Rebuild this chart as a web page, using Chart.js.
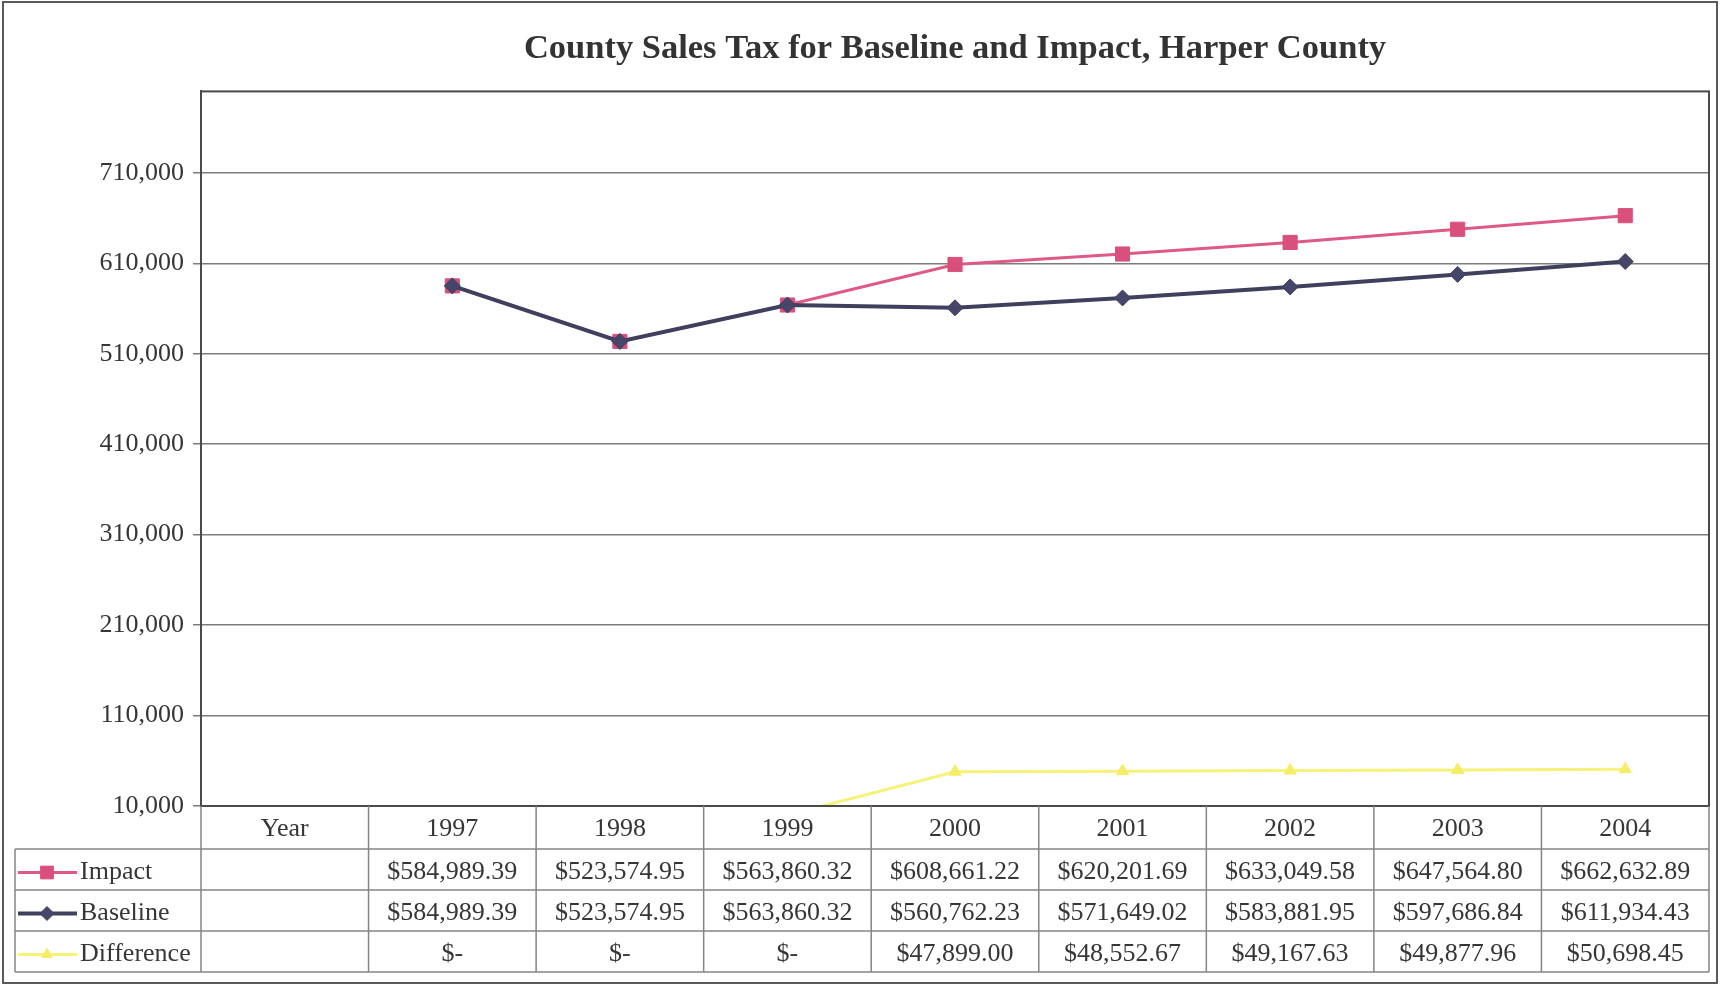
<!DOCTYPE html>
<html>
<head>
<meta charset="utf-8">
<title>County Sales Tax for Baseline and Impact, Harper County</title>
<script src="https://cdn.jsdelivr.net/npm/chart.js@4.4.1/dist/chart.umd.min.js"></script>
<style>
  html, body { margin: 0; padding: 0; background: #fff; }
  canvas { display: block; }
</style>
</head>
<body>
<canvas id="taxChart" width="1720" height="985"></canvas>
<script>
// categories (first column is the table header cell)
const years = ['Year', '1997', '1998', '1999', '2000', '2001', '2002', '2003', '2004'];

// series values, dollars
const impact     = [null, 584989.39, 523574.95, 563860.32, 608661.22, 620201.69, 633049.58, 647564.80, 662632.89];
const baseline   = [null, 584989.39, 523574.95, 563860.32, 560762.23, 571649.02, 583881.95, 597686.84, 611934.43];
const difference = [null, 0, 0, 0, 47899.00, 48552.67, 49167.63, 49877.96, 50698.45];

// value axis: ticks start at the axis minimum
const yMin = 10000;
const yMax = 800000;
const yStep = 100000;

const FONT = "'Liberation Serif', 'Times New Roman', serif";
const TEXT = '#363636';
const RULE = '#858585';

// money format used in the data table
function money(v) {
  if (v === null) return '';
  if (v === 0) return '$-';
  return '$' + v.toLocaleString('en-US', { minimumFractionDigits: 2, maximumFractionDigits: 2 });
}

// frame round the whole chart, border round the plot
const framePlugin = {
  id: 'frame',
  beforeDraw(chart) {
    const ctx = chart.ctx;
    ctx.save();
    ctx.fillStyle = '#fff';
    ctx.fillRect(0, 0, chart.width, chart.height);
    ctx.restore();
  },
  afterDraw(chart) {
    const ctx = chart.ctx;
    const a = chart.chartArea;
    ctx.save();
    ctx.strokeStyle = '#5a5a5a';
    ctx.lineWidth = 2;
    ctx.strokeRect(3, 2, chart.width - 6, chart.height - 4);
    ctx.strokeStyle = '#4a4a4a';
    ctx.strokeRect(a.left, a.top, a.right - a.left, a.bottom - a.top);
    ctx.restore();
  }
};

// data table under the plot, columns follow the category scale
const tablePlugin = {
  id: 'dataTable',
  afterDraw(chart) {
    const ctx = chart.ctx;
    const x = chart.scales.x;
    const top = chart.chartArea.bottom;
    const band = x.width / years.length;
    const edges = [];
    for (let i = 0; i <= years.length; i++) edges.push(x.left + i * band);

    const headH = 43, rowH = 41;
    const rows = [top + headH, top + headH + rowH, top + headH + 2 * rowH, top + headH + 3 * rowH];
    const keyLeft = 15;

    ctx.save();
    ctx.strokeStyle = RULE;
    ctx.lineWidth = 1.5;
    ctx.beginPath();
    // vertical rules
    edges.forEach(ex => {
      ctx.moveTo(ex, top);
      ctx.lineTo(ex, rows[3]);
    });
    ctx.moveTo(keyLeft, rows[0]);
    ctx.lineTo(keyLeft, rows[3]);
    // horizontal rules
    rows.forEach(ry => {
      ctx.moveTo(keyLeft, ry);
      ctx.lineTo(edges[edges.length - 1], ry);
    });
    ctx.stroke();

    // value cells and legend keys
    const sets = chart.data.datasets.slice().sort((p, q) => p.row - q.row);
    ctx.font = '26px ' + FONT;
    ctx.fillStyle = TEXT;
    ctx.textBaseline = 'middle';
    sets.forEach((ds, r) => {
      const cy = rows[r] + rowH / 2 + 3;
      ctx.textAlign = 'center';
      ds.data.forEach((v, i) => {
        if (v === null) return;
        ctx.fillText(money(v), (edges[i] + edges[i + 1]) / 2, cy);
      });

      // legend key: short line with the series marker
      ctx.save();
      ctx.strokeStyle = ds.borderColor;
      ctx.lineWidth = ds.borderWidth;
      ctx.beginPath();
      ctx.moveTo(18, cy);
      ctx.lineTo(77, cy);
      ctx.stroke();
      ctx.fillStyle = ds.pointBackgroundColor;
      ctx.strokeStyle = ds.pointBorderColor;
      ctx.lineWidth = 1;
      Chart.helpers.drawPoint(ctx, { pointStyle: ds.pointStyle, radius: ds.pointRadius - 1, rotation: 0, borderWidth: 1 }, 47, cy);
      ctx.restore();

      ctx.textAlign = 'left';
      ctx.fillText(ds.label, 80, cy);
    });
    ctx.restore();
  }
};

new Chart(document.getElementById('taxChart'), {
  type: 'line',
  data: {
    labels: years,
    datasets: [
      {
        label: 'Impact',
        row: 0,
        order: 1,
        data: impact,
        borderColor: '#de5a85',
        borderWidth: 3,
        pointStyle: 'rect',
        pointRadius: 10,
        pointBackgroundColor: '#d9507c',
        pointBorderColor: '#d9507c',
        pointBorderWidth: 1,
        tension: 0
      },
      {
        label: 'Baseline',
        row: 1,
        order: 0,
        data: baseline,
        borderColor: '#40405e',
        borderWidth: 4,
        pointStyle: 'rectRot',
        pointRadius: 8,
        pointBackgroundColor: '#46466a',
        pointBorderColor: '#40405e',
        pointBorderWidth: 1,
        tension: 0
      },
      {
        label: 'Difference',
        row: 2,
        order: 2,
        data: difference,
        borderColor: '#f6f27a',
        borderWidth: 3,
        pointStyle: 'triangle',
        pointRadius: 7,
        pointBackgroundColor: '#f4ee66',
        pointBorderColor: '#f4ee66',
        pointBorderWidth: 1,
        tension: 0,
        clip: 0
      }
    ]
  },
  options: {
    responsive: false,
    animation: false,
    layout: { padding: { top: 20, right: 11, bottom: 12, left: 0 } },
    plugins: {
      legend: { display: false },
      tooltip: { enabled: false },
      title: {
        display: true,
        fullSize: false,
        text: 'County Sales Tax for Baseline and Impact, Harper County',
        color: '#333',
        font: { family: FONT, size: 34.5, weight: 'bold' },
        padding: { top: 8, bottom: 22 }
      }
    },
    scales: {
      x: {
        type: 'category',
        offset: true,
        grid: { display: false },
        border: { display: false },
        ticks: {
          autoSkip: false,
          maxRotation: 0,
          color: TEXT,
          font: { family: FONT, size: 26 },
          padding: 0
        },
        afterFit(scale) { scale.height = 167; }
      },
      y: {
        min: yMin,
        max: yMax,
        border: { display: true, color: '#4a4a4a', width: 2 },
        grid: { color: '#7c7c7c', lineWidth: 1.5, tickLength: 8, drawTicks: true },
        ticks: {
          color: TEXT,
          font: { family: FONT, size: 26 },
          padding: 9,
          callback: v => v.toLocaleString('en-US')
        },
        afterBuildTicks(scale) {
          const t = [];
          for (let v = yMin; v < yMax; v += yStep) t.push({ value: v });
          scale.ticks = t;
        },
        afterFit(scale) { scale.width = 201; }
      }
    }
  },
  plugins: [framePlugin, tablePlugin]
});
</script>
</body>
</html>
